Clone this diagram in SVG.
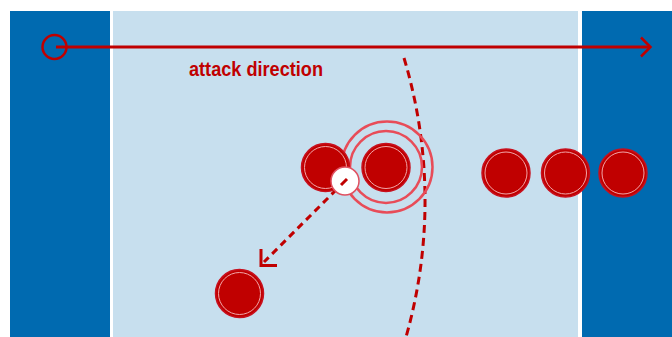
<svg xmlns="http://www.w3.org/2000/svg" width="672" height="337" viewBox="0 0 672 337">
<style>
.zone{fill:#006ab0}
.field{fill:#c7dfee}
.player{fill:#c00000;stroke:#c8101e;stroke-width:1.5}
.inner{fill:none;stroke:#f2a5a8;stroke-width:1}
.ring{fill:none;stroke:#e84c58;stroke-width:2.5}
.red{stroke:#c00000;fill:none}
.label{font-family:"Liberation Sans",Arial,sans-serif;font-weight:bold;font-size:20px;fill:#c00000}
</style>
<defs>
<g id="p"><circle r="24" class="player"/><circle r="21" class="inner"/></g>
</defs>
<rect width="672" height="337" fill="#ffffff"/>
<g id="field">
<rect class="zone" x="10" y="11" width="100" height="326"/>
<rect class="field" x="113" y="11" width="465" height="326"/>
<rect class="zone" x="582" y="11" width="90" height="326"/>
</g>
<g id="connectors">
<g id="attack-arrow">
<circle cx="54.5" cy="47" r="12" class="red" stroke-width="2.5"/>
<line x1="56" y1="47" x2="650" y2="47" class="red" stroke-width="3"/>
<polyline points="641,37.5 650.5,47 641,56.5" class="red" stroke-width="2.5"/>
</g>
<path id="arc" d="M404,58 A496,496 0 0 1 406,337" class="red" stroke="#b00012" stroke-width="3" stroke-dasharray="8,5"/>
<g id="pass">
<line x1="345" y1="181" x2="264" y2="262" class="red" stroke-width="3" stroke-dasharray="7,5"/>
</g>
</g>
<g id="rings">
<circle cx="387" cy="167" r="45.5" class="ring"/>
<circle cx="386" cy="167" r="36" class="ring"/>
</g>
<g id="player-1"><use href="#p" x="325.5" y="167.5"/></g>
<g id="player-2"><use href="#p" x="386" y="167.5"/></g>
<g id="player-3"><use href="#p" x="506" y="173"/></g>
<g id="player-4"><use href="#p" x="565.5" y="173"/></g>
<g id="player-5"><use href="#p" x="623" y="173"/></g>
<g id="player-6"><use href="#p" x="239.5" y="293.5"/></g>
<g id="ball">
<circle cx="345" cy="181" r="14" fill="#ffffff" stroke="#e05060" stroke-width="1.5"/>
<line x1="347" y1="179" x2="341" y2="185" class="red" stroke-width="3"/>
</g>
<g id="pass-head">
<polyline points="261,249 261,265.5 277,265.5" class="red" stroke-width="3"/>
</g>
<g id="label">
<text class="label" x="189" y="76" textLength="134" lengthAdjust="spacingAndGlyphs">attack direction</text>
</g>
</svg>
